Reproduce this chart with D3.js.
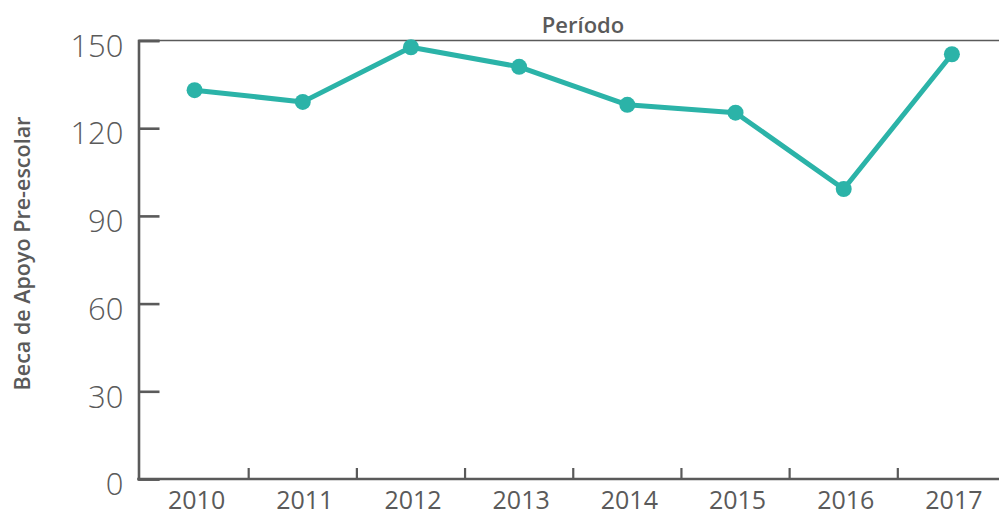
<!DOCTYPE html>
<html>
<head>
<meta charset="utf-8">
<script src="https://cdn.jsdelivr.net/npm/d3@7"></script>
<style>
  html, body { margin: 0; padding: 0; background: #fff; }
  svg { display: block; }
  text { font-family: "Open Sans", "Noto Sans", sans-serif; fill: #5a5a5a; }
</style>
</head>
<body>
<svg id="chart" width="999" height="515"></svg>
<script>
const years = ["2010", "2011", "2012", "2013", "2014", "2015", "2016", "2017"];
const values = [133, 129, 147.7, 141, 128, 125.3, 99.2, 145.3];
const yTicks = [0, 30, 60, 90, 120, 150];
const xTitle = "Período";
const yTitle = "Beca de Apoyo Pre-escolar";

(function () {
const svg = d3.select("#chart");
const W = 999;
const mLeft = 138.5, mTop = 40.5, mBottom = 479;
const axisColor = "#5a5a5a";
const teal = "#2bb3a8";

const x = d3.scaleBand().domain(years).range([140.5, 1006]).paddingInner(0).paddingOuter(0);
const y = d3.scaleLinear().domain([0, 150]).range([mBottom, mTop]);

// top line
svg.append("line")
  .attr("x1", mLeft).attr("x2", W)
  .attr("y1", mTop).attr("y2", mTop)
  .attr("stroke", axisColor).attr("stroke-width", 1.6);

// Y axis
const yAxis = svg.append("g").attr("transform", `translate(${mLeft},0)`)
  .call(d3.axisLeft(y).tickValues(yTicks).tickSize(-21).tickPadding(14).tickFormat(d3.format("d")));
yAxis.select(".domain").attr("stroke", axisColor).attr("stroke-width", 2.6);
yAxis.selectAll(".tick line").attr("stroke", axisColor).attr("stroke-width", 2.6);
yAxis.selectAll(".tick text")
  .attr("x", -15).attr("dy", "0.7em").attr("y", -6)
  .style("font-size", "31px").style("font-weight", 300)
  .style("font-family", "'Open Sans', sans-serif").attr("fill", "#5a5a5a");

// X axis
const xAxis = svg.append("g").attr("transform", `translate(0,${mBottom})`);
xAxis.append("line").attr("x1", mLeft - 1.3).attr("x2", W).attr("y1", 0).attr("y2", 0)
  .attr("stroke", axisColor).attr("stroke-width", 2.6);
const bounds = years.slice(1).map(d => x(d));
xAxis.selectAll("line.tk").data(bounds).enter().append("line").attr("class", "tk")
  .attr("x1", d => d).attr("x2", d => d).attr("y1", 0).attr("y2", -11)
  .attr("stroke", axisColor).attr("stroke-width", 2.2);
xAxis.selectAll("text.lbl").data(years).enter().append("text").attr("class", "lbl")
  .attr("x", d => x(d) + x.bandwidth() / 2 + 2)
  .attr("y", 30)
  .attr("text-anchor", "middle")
  .style("font-size", "25px")
  .text(d => d);

// titles
svg.append("text").attr("x", 583).attr("y", 33)
  .attr("text-anchor", "middle").style("font-size", "22px").style("font-weight", 600)
  .text(xTitle);
svg.append("text").attr("transform", `translate(30,253.5) rotate(-90)`)
  .attr("text-anchor", "middle").style("font-size", "21.5px").style("font-weight", 600)
  .text(yTitle);

// line + points
const cx = d => x(d) + x.bandwidth() / 2;
const data = years.map((d, i) => ({ year: d, value: values[i] }));
svg.append("path").datum(data)
  .attr("fill", "none").attr("stroke", teal).attr("stroke-width", 5).attr("stroke-linejoin", "round")
  .attr("d", d3.line().x(d => cx(d.year)).y(d => y(d.value)));
svg.selectAll("circle.pt").data(data).enter().append("circle").attr("class", "pt")
  .attr("cx", d => cx(d.year)).attr("cy", d => y(d.value)).attr("r", 8)
  .attr("fill", teal);
})();
</script>
</body>
</html>
